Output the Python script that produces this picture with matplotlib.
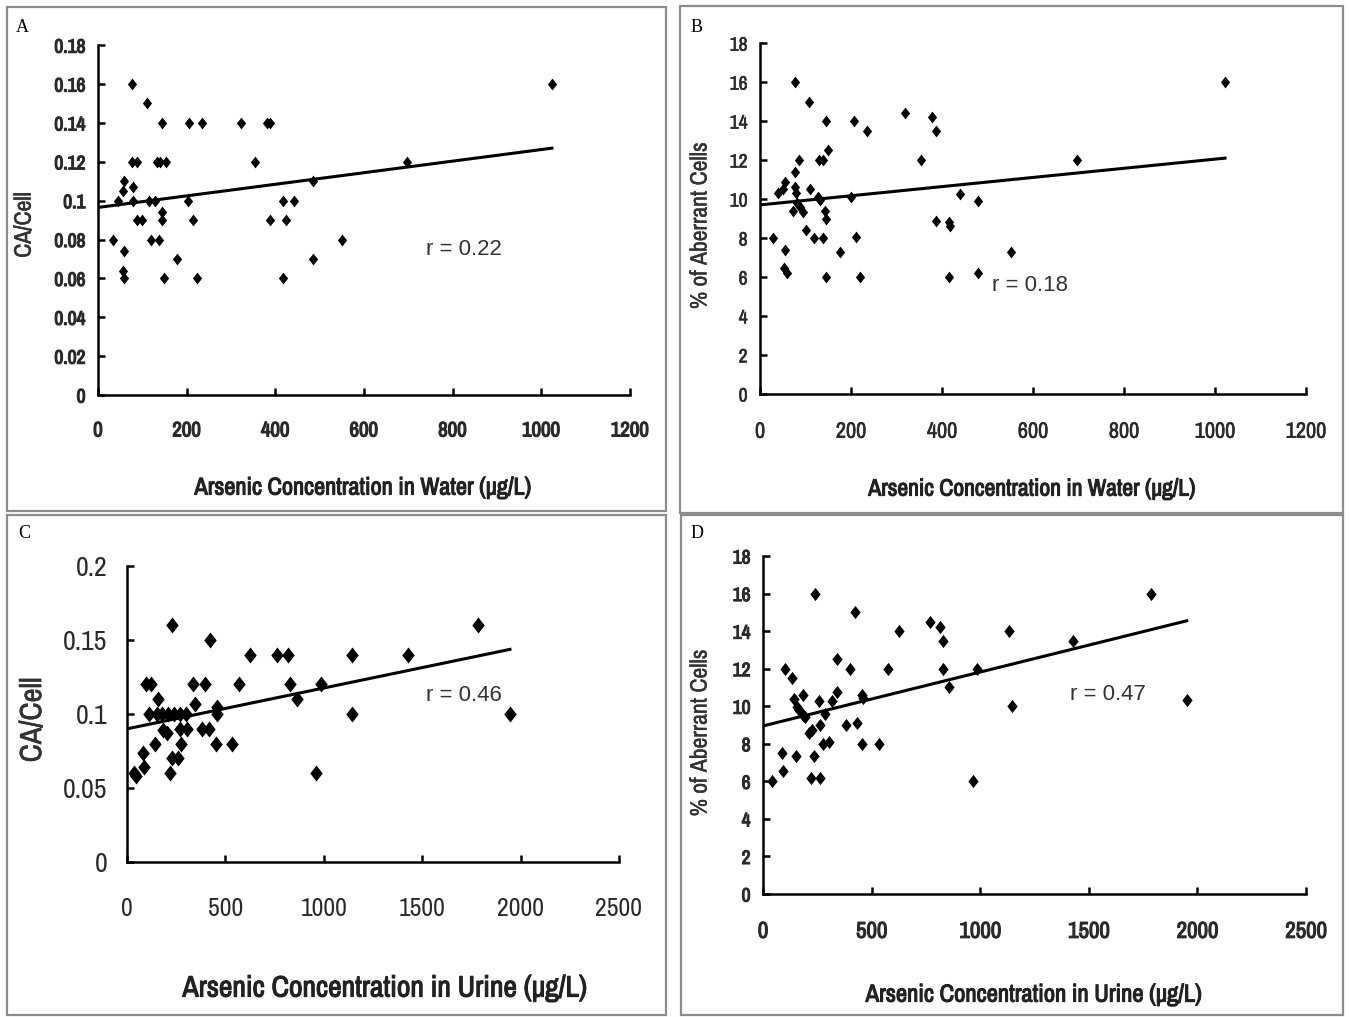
import numpy as np
import matplotlib
matplotlib.use("Agg")
import matplotlib.pyplot as plt
from matplotlib.patches import Rectangle
from matplotlib import font_manager
import matplotlib.patheffects as pe

# --- data ---
# A: CA/cell vs arsenic in water
water_a = [77, 111, 144, 206, 235, 322, 381, 388, 76, 87, 132, 140, 153, 354, 59, 57, 78,
           46, 80, 116, 129, 204, 144, 87, 99, 144, 214, 388, 424, 418, 442, 484, 33, 120,
           138, 59, 178, 484, 56, 59, 149, 223, 418, 550, 1024, 698]
ca_a = [0.16, 0.15, 0.14, 0.14, 0.14, 0.14, 0.14, 0.14, 0.12, 0.12, 0.12, 0.12, 0.12, 0.12,
        0.11, 0.105, 0.107, 0.10, 0.10, 0.10, 0.10, 0.10, 0.094, 0.09, 0.09, 0.09, 0.09,
        0.09, 0.09, 0.10, 0.10, 0.11, 0.08, 0.08, 0.08, 0.074, 0.07, 0.07, 0.064, 0.06,
        0.06, 0.06, 0.06, 0.08, 0.16, 0.12]
fit_a_x = [0, 1024]
fit_a_y = [0.0965, 0.127]

# B: % aberrant cells vs arsenic in water
water_b = [77, 107, 144, 207, 234, 319, 377, 387, 150, 86, 130, 138, 353, 77, 55, 51, 40, 77,
           110, 79, 128, 132, 201, 81, 88, 95, 73, 143, 145, 101, 29, 119, 138, 211, 55, 176,
           53, 59, 145, 220, 387, 416, 418, 440, 480, 416, 480, 1022, 696, 551]
aberr_b = [16, 15, 14, 14, 13.5, 14.4, 14.2, 13.5, 12.5, 12, 12, 12, 12, 11.4, 10.9, 10.5,
           10.3, 10.6, 10.5, 10.3, 10.1, 9.95, 10.1, 9.8, 9.6, 9.35, 9.4, 9.4, 8.96, 8.4, 8,
           8, 8, 8.07, 7.4, 7.3, 6.45, 6.2, 6, 6, 8.87, 8.84, 8.63, 10.24, 9.9, 6, 6.2, 16,
           12, 7.3]
fit_b_x = [0, 1022]
fit_b_y = [9.7, 12.1]

# C: CA/cell vs arsenic in urine
urine_c = [227, 422, 625, 764, 820, 1142, 97, 120, 334, 396, 571, 828, 984, 159, 346, 862,
           456, 456, 110, 150, 180, 210, 240, 270, 300, 185, 202, 269, 303, 380, 418, 142,
           273, 451, 532, 80, 227, 261, 86, 36, 46, 218, 960, 1145, 1785, 1426, 1946]
ca_c = [0.16, 0.15, 0.14, 0.14, 0.14, 0.14, 0.12, 0.12, 0.12, 0.12, 0.12, 0.12, 0.12, 0.11,
        0.107, 0.11, 0.105, 0.10, 0.10, 0.10, 0.10, 0.10, 0.10, 0.10, 0.10, 0.089, 0.087,
        0.09, 0.09, 0.09, 0.09, 0.08, 0.08, 0.08, 0.08, 0.074, 0.07, 0.07, 0.064, 0.06,
        0.058, 0.06, 0.06, 0.10, 0.16, 0.14, 0.10]
fit_c_x = [0, 1946]
fit_c_y = [0.090, 0.1437]

# D: % aberrant cells vs arsenic in urine
urine_d = [239, 424, 628, 769, 815, 827, 1134, 342, 101, 400, 574, 827, 984, 132, 858, 342,
           183, 144, 155, 167, 186, 193, 258, 316, 285, 454, 462, 262, 382, 431, 213, 224,
           278, 305, 457, 535, 86, 150, 236, 91, 43, 221, 262, 968, 1785, 1426, 1145, 1951]
aberr_d = [16, 15, 14, 14.5, 14.2, 13.5, 14, 12.5, 12, 12, 12, 12, 12, 11.5, 11, 10.77, 10.6,
           10.38, 9.97, 9.8, 9.53, 9.44, 10.28, 10.28, 9.58, 10.6, 10.42, 9.0, 9.0, 9.09,
           8.56, 8.73, 8.0, 8.08, 8.0, 8.0, 7.5, 7.37, 7.37, 6.55, 6.0, 6.2, 6.2, 6.0, 16,
           13.5, 10, 10.33]
fit_d_x = [0, 1951]
fit_d_y = [8.95, 14.55]

r_texts = ["r = 0.22", "r = 0.18", "r = 0.46", "r = 0.47"]
r_pos = [(826, 0.075), (593, 5.54), (1712, 0.1128), (1588, 10.6)]

water_ticks = [0, 200, 400, 600, 800, 1000, 1200]
urine_ticks = [0, 500, 1000, 1500, 2000, 2500]
ca_ticks_a = [0, 0.02, 0.04, 0.06, 0.08, 0.1, 0.12, 0.14, 0.16, 0.18]
ca_ticks_c = [0, 0.05, 0.1, 0.15, 0.2]
pct_ticks = [0, 2, 4, 6, 8, 10, 12, 14, 16, 18]

# pick a narrow sans (Arial Narrow look-alike) from what is installed
names = {f.name for f in font_manager.fontManager.ttflist}
narrow = "DejaVu Sans"
for cand in ["Liberation Sans Narrow", "Arial Narrow", "Archivo Narrow", "PT Sans Narrow",
             "Roboto Condensed", "Pragati Narrow", "Encode Sans Condensed"]:
    if cand in names:
        narrow = cand
        break
plt.rcParams["font.family"] = [narrow, "DejaVu Sans"]
sans = "Liberation Sans" if "Liberation Sans" in names else "DejaVu Sans"


def heavy(w, c="#222222"):
    # fake a bold face with a thin outline stroke
    return [pe.withStroke(linewidth=w, foreground=c)] if w else []


diamond = [(0, 1), (0.78, 0), (0, -1), (-0.78, 0), (0, 1)]

fig = plt.figure(figsize=(13.5, 10.17), dpi=100)

# gray frames round each panel
for (x0, y0, w, h) in [(0.0052, 0.4975, 0.488, 0.4956), (0.5037, 0.4956, 0.4911, 0.4985),
                       (0.0052, 0.002, 0.488, 0.4916), (0.5044, 0.002, 0.4904, 0.4916)]:
    fig.patches.append(Rectangle((x0, y0), w, h, transform=fig.transFigure, fill=False,
                                 edgecolor="#8c8c8c", lw=1.6))

panels = [
    dict(rect=[0.0726, 0.6116, 0.394, 0.344], x=water_a, y=ca_a, fx=fit_a_x, fy=fit_a_y,
         xt=water_ticks, yt=ca_ticks_a, ylab="CA/Cell", xlab="Arsenic Concentration in Water (\u00b5g/L)",
         ms=8.5, tfs=15, ytfs=14, tstroke=0.9, xpad=19, ypad=9, lfs=17.5, yfs=17, ystroke=0.4,
         xl=(0.499, -0.266), yl=(-0.139, 0.486), letter="A", lp=(22, 27)),
    dict(rect=[0.563, 0.6126, 0.4044, 0.345], x=water_b, y=aberr_b, fx=fit_b_x, fy=fit_b_y,
         xt=water_ticks, yt=pct_ticks, ylab="% of Aberrant Cells",
         xlab="Arsenic Concentration in Water (\u00b5g/L)",
         ms=8.5, tfs=16, ytfs=14, tstroke=0.4, xpad=20, ypad=9, lfs=17, yfs=17, ystroke=0.3,
         xl=(0.497, -0.271), yl=(-0.11, 0.479), letter="B", lp=(697, 28)),
    dict(rect=[0.0941, 0.1524, 0.3644, 0.291], x=urine_c, y=ca_c, fx=fit_c_x, fy=fit_c_y,
         xt=urine_ticks, yt=ca_ticks_c, ylab="CA/Cell", xlab="Arsenic Concentration in Urine (\u00b5g/L)",
         ms=11.5, tfs=18.5, ytfs=20, tstroke=0, xpad=25, ypad=14, lfs=21.3, yfs=22, ystroke=0.4,
         xl=(0.523, -0.426), yl=(-0.193, 0.48), letter="C", lp=(24, 533)),
    dict(rect=[0.5652, 0.1209, 0.4022, 0.3324], x=urine_d, y=aberr_d, fx=fit_d_x, fy=fit_d_y,
         xt=urine_ticks, yt=pct_ticks, ylab="% of Aberrant Cells",
         xlab="Arsenic Concentration in Urine (\u00b5g/L)",
         ms=9.5, tfs=16.5, ytfs=14, tstroke=0.8, xpad=20, ypad=9, lfs=17.7, yfs=17, ystroke=0.3,
         xl=(0.499, -0.299), yl=(-0.116, 0.476), letter="D", lp=(697, 534)),
]

for p, rt, rp in zip(panels, r_texts, r_pos):
    ax = fig.add_axes(p["rect"])
    ax.plot(p["x"], p["y"], linestyle="none", marker=diamond, ms=p["ms"], color="black",
            mec="black", mew=0, clip_on=False, zorder=3)
    ax.plot(p["fx"], p["fy"], color="black", lw=2.2, zorder=2)
    ax.set_xlim(p["xt"][0], p["xt"][-1])
    ax.set_ylim(p["yt"][0], p["yt"][-1])
    ax.set_xticks(p["xt"])
    ax.set_yticks(p["yt"])
    ylabs = ax.set_yticklabels([f"{v:g}" for v in p["yt"]], fontsize=p["ytfs"], color="#2a2a2a")
    xlabs = ax.set_xticklabels([f"{v:g}" for v in p["xt"]], fontsize=p["tfs"], color="#2a2a2a")
    for t in list(ylabs) + list(xlabs):
        t.set_path_effects(heavy(p["tstroke"], "#2a2a2a"))
    ax.tick_params(axis="x", direction="in", length=5, width=1.8, pad=p["xpad"])
    ax.tick_params(axis="y", direction="in", length=5, width=1.8, pad=p["ypad"])
    for s in ["top", "right"]:
        ax.spines[s].set_visible(False)
    for s in ["left", "bottom"]:
        ax.spines[s].set_linewidth(1.8)
    ax.set_xlabel(p["xlab"], fontsize=p["lfs"], color="#222222", path_effects=heavy(0.8))
    ax.xaxis.set_label_coords(*p["xl"])
    ax.xaxis.label.set_va("center")
    ax.set_ylabel(p["ylab"], fontsize=p["yfs"], color="#333333",
                  path_effects=heavy(p["ystroke"], "#333333"))
    ax.yaxis.set_label_coords(*p["yl"])
    ax.yaxis.label.set_va("center")
    ax.text(rp[0], rp[1], rt, fontsize=16, family=[sans, "DejaVu Sans"],
            color="#333333", ha="center", va="center")
    fig.text(p["lp"][0] / 1350, 1 - p["lp"][1] / 1017, p["letter"], fontsize=13,
             family=["Liberation Serif", "DejaVu Serif"], ha="center", va="center")

fig.savefig("out.png", dpi=100)
